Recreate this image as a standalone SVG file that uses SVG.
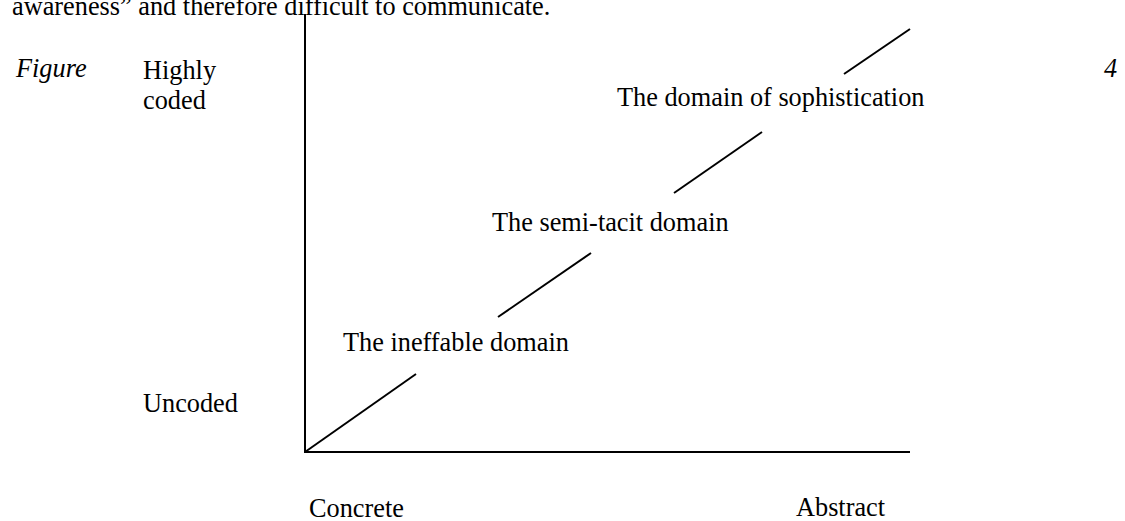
<svg xmlns="http://www.w3.org/2000/svg" width="1125" height="521" viewBox="0 0 1125 521">
  <style>
    .t { font-family: "Liberation Serif", "Times New Roman", serif; font-size: 26.3px; fill: #000; }
    .it { font-style: italic; }
    .ax { stroke: #000; stroke-width: 2; fill: none; }
    .dg { stroke: #000; stroke-width: 2; fill: none; stroke-linecap: butt; }
  </style>
  <rect width="1125" height="521" fill="#fff"/>

  <!-- running text line above the figure -->
  <text class="t" x="12" y="15">awareness” and therefore difficult to communicate.</text>

  <!-- caption pieces -->
  <text class="t it" x="16" y="77">Figure</text>
  <text class="t it" x="1104" y="77">4</text>

  <!-- axes -->
  <g id="axes">
    <line class="ax" x1="305" y1="14" x2="305" y2="453"/>
    <line class="ax" x1="304" y1="452" x2="910" y2="452"/>
  </g>

  <!-- axis labels -->
  <g id="label-highly-coded">
    <text class="t" x="143" y="79">Highly</text>
    <text class="t" x="143" y="109">coded</text>
  </g>
  <g id="label-uncoded"><text class="t" x="143" y="412">Uncoded</text></g>
  <g id="label-concrete"><text class="t" x="309" y="517">Concrete</text></g>
  <g id="label-abstract"><text class="t" x="796" y="516">Abstract</text></g>

  <!-- diagonal, broken where the domain names sit -->
  <g id="connectors">
    <line class="dg" x1="305" y1="452" x2="416" y2="374"/>
    <line class="dg" x1="498" y1="317" x2="591" y2="253"/>
    <line class="dg" x1="674" y1="193" x2="762" y2="132"/>
    <line class="dg" x1="844" y1="74" x2="910" y2="29"/>
  </g>

  <!-- domains -->
  <g id="domain-ineffable"><text class="t" x="343" y="351">The ineffable domain</text></g>
  <g id="domain-semi-tacit"><text class="t" x="492" y="231">The semi-tacit domain</text></g>
  <g id="domain-sophistication"><text class="t" x="617" y="106">The domain of sophistication</text></g>
</svg>
